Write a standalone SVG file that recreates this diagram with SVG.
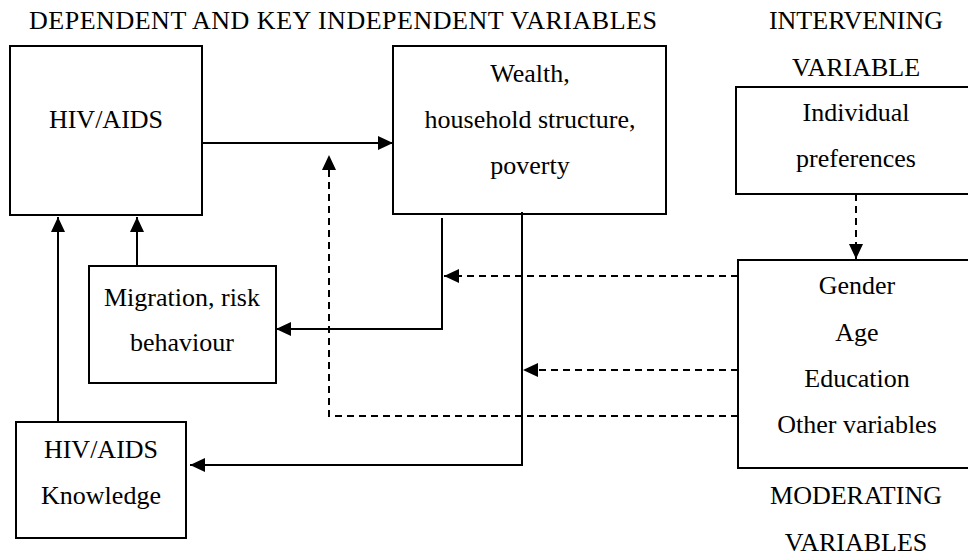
<svg xmlns="http://www.w3.org/2000/svg" width="968" height="556" viewBox="0 0 968 556">
<style>
text{font-family:"Liberation Serif","Times New Roman",serif;font-size:26px;fill:#000}
.c{text-anchor:middle}
.box{fill:#fff;stroke:#000;stroke-width:2}
.ln{fill:none;stroke:#000;stroke-width:2}
.dash{fill:none;stroke:#000;stroke-width:2;stroke-dasharray:7 5}
</style>
<defs>
<marker id="ah" markerUnits="userSpaceOnUse" markerWidth="15" markerHeight="14" refX="15" refY="7" orient="auto" viewBox="0 0 15 14">
<path d="M0,0 L15,7 L0,14 z" fill="#000"/>
</marker>
</defs>
<g id="titles">
<text x="29" y="29" textLength="628" lengthAdjust="spacing">DEPENDENT AND KEY INDEPENDENT VARIABLES</text>
<text class="c" x="856" y="29">INTERVENING</text>
<text class="c" x="856" y="76">VARIABLE</text>
<text class="c" x="856" y="504">MODERATING</text>
<text class="c" x="856" y="551">VARIABLES</text>
</g>
<g id="hiv">
<rect class="box" x="10" y="46" width="192" height="169"/>
<text class="c" x="106" y="128">HIV/AIDS</text>
</g>
<g id="wealth">
<rect class="box" x="393" y="46" width="273" height="168"/>
<text class="c" x="530" y="82">Wealth,</text>
<text class="c" x="530" y="128">household structure,</text>
<text class="c" x="530" y="174">poverty</text>
</g>
<g id="preferences">
<rect class="box" x="736" y="87" width="250" height="107"/>
<text class="c" x="856" y="121">Individual</text>
<text class="c" x="856" y="167">preferences</text>
</g>
<g id="migration">
<rect class="box" x="89" y="266" width="187" height="117"/>
<text class="c" x="182" y="306">Migration, risk</text>
<text class="c" x="182" y="351">behaviour</text>
</g>
<g id="knowledge">
<rect class="box" x="16" y="422" width="170" height="116"/>
<text class="c" x="101" y="458">HIV/AIDS</text>
<text class="c" x="101" y="504">Knowledge</text>
</g>
<g id="moderating">
<rect class="box" x="738" y="260" width="250" height="208"/>
<text class="c" x="857" y="294">Gender</text>
<text class="c" x="857" y="341">Age</text>
<text class="c" x="857" y="387">Education</text>
<text class="c" x="857" y="433">Other variables</text>
</g>
<g id="connectors">
<line class="ln" x1="202" y1="143" x2="393" y2="143" marker-end="url(#ah)"/>
<path class="dash" d="M738,416 H329 V155" marker-end="url(#ah)"/>
<line class="ln" x1="137" y1="266" x2="137" y2="217" marker-end="url(#ah)"/>
<line class="ln" x1="58" y1="422" x2="58" y2="217" marker-end="url(#ah)"/>
<path class="ln" d="M442,218 V329 H276" marker-end="url(#ah)"/>
<path class="ln" d="M522,212 V465 H190" marker-end="url(#ah)"/>
<line class="dash" x1="856" y1="194" x2="856" y2="259" marker-end="url(#ah)"/>
<line class="dash" x1="738" y1="276" x2="444" y2="276" marker-end="url(#ah)"/>
<line class="dash" x1="738" y1="370" x2="523" y2="370" marker-end="url(#ah)"/>
</g>
</svg>
